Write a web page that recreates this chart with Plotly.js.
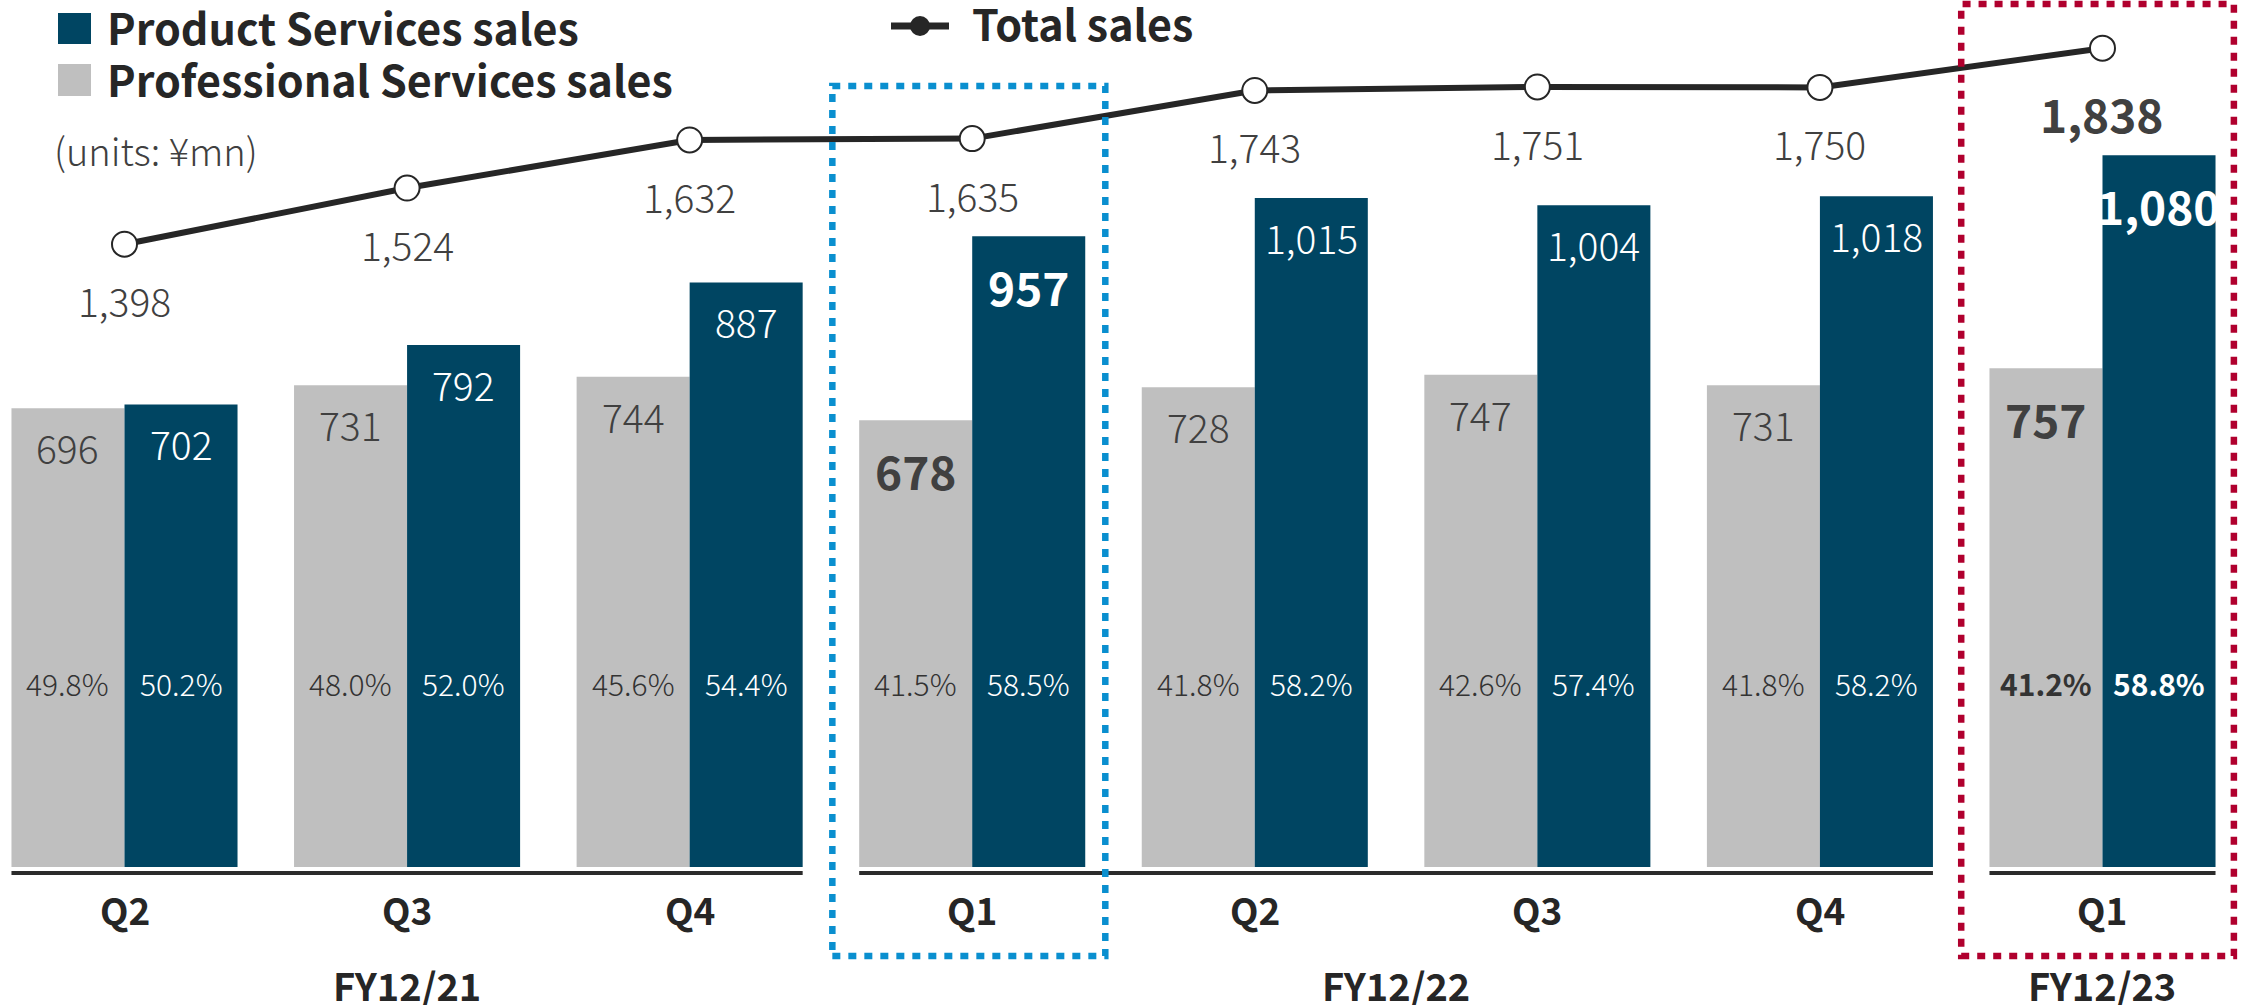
<!DOCTYPE html>
<html>
<head>
<meta charset="utf-8">
<script src="https://cdn.plot.ly/plotly-3.0.1.min.js"></script>
<style>
html,body{margin:0;padding:0;background:#fff;}
#chart{width:2242px;height:1007px;}
</style>
</head>
<body>
<div id="chart"></div>
<script>
// ---- data ----
const quarters = ['Q2','Q3','Q4','Q1','Q2','Q3','Q4','Q1'];
const fiscalYears = ['FY12/21','FY12/22','FY12/23'];
const fiscalYearSpan = [[0,2],[3,6],[7,7]];
const professional = [696,731,744,678,728,747,731,757];
const product = [702,792,887,957,1015,1004,1018,1080];
const total = [1398,1524,1632,1635,1743,1751,1750,1838];
const professionalPct = ['49.8%','48.0%','45.6%','41.5%','41.8%','42.6%','41.8%','41.2%'];
const productPct = ['50.2%','52.0%','54.4%','58.5%','58.2%','57.4%','58.2%','58.8%'];
const highlightBars = [3,7];     // bold bar values
const highlightAll = [7];        // bold totals & percentages

// ---- styling / layout ----
const W = 2242, H = 1007, PB = 867;
const FONT = 'Noto Sans CJK JP, Noto Sans, sans-serif';
const NAVY = '#004562', GRAY = '#bfbfbf', DARK = '#262626', TXT = '#404040';
const px = x => x / W;
const py = y => (PB - y) / PB;
const idx = quarters.map((_, i) => i);
const fmt = v => v.toLocaleString('en-US');

const traces = [
  {type:'bar', name:'Professional Services sales', x: idx, y: professional,
   marker:{color: GRAY}, hoverinfo:'skip', showlegend:false},
  {type:'bar', name:'Product Services sales', x: idx, y: product,
   marker:{color: NAVY}, hoverinfo:'skip', showlegend:false},
  {type:'scatter', mode:'lines+markers', name:'Total sales', x: idx, y: total, yaxis:'y2',
   line:{color: DARK, width: 6},
   marker:{size: 25, color:'#ffffff', line:{color: DARK, width: 2}},
   cliponaxis:false, hoverinfo:'skip', showlegend:false}
];

const ann = [];
const shapes = [];

idx.forEach(i => {
  const bb = highlightBars.includes(i);
  const ba = highlightAll.includes(i);
  // bar values
  ann.push({x: i - 0.2, y: professional[i], xref:'x', yref:'y', yshift: bb ? -50 : -39,
    text: fmt(professional[i]), showarrow:false, xanchor:'center', yanchor:'middle',
    font:{family: FONT, size: bb ? 46 : 39, color: TXT, weight: bb ? 700 : 300}});
  ann.push({x: i + 0.2, y: product[i], xref:'x', yref:'y', yshift: bb ? -50 : -39,
    text: fmt(product[i]), showarrow:false, xanchor:'center', yanchor:'middle',
    font:{family: FONT, size: bb ? 46 : 39, color: '#ffffff', weight: bb ? 700 : 300}});
  // totals
  ann.push({x: i, y: total[i], xref:'x', yref:'y2', yshift: ba ? -65 : -56,
    text: fmt(total[i]), showarrow:false, xanchor:'center', yanchor:'middle',
    font:{family: FONT, size: ba ? 46 : 39, color: TXT, weight: ba ? 700 : 300}});
  // percentages
  ann.push({x: i - 0.2, y: py(683), xref:'x', yref:'paper',
    text: professionalPct[i], showarrow:false, xanchor:'center', yanchor:'middle',
    font:{family: FONT, size: 30, color: '#333333', weight: ba ? 700 : 300}});
  ann.push({x: i + 0.2, y: py(683), xref:'x', yref:'paper',
    text: productPct[i], showarrow:false, xanchor:'center', yanchor:'middle',
    font:{family: FONT, size: 30, color: '#ffffff', weight: ba ? 700 : 300}});
  // quarter labels
  ann.push({x: i, y: py(909), xref:'x', yref:'paper', text: quarters[i], showarrow:false,
    xanchor:'center', yanchor:'middle', font:{family: FONT, size: 37, color: DARK, weight: 700}});
});

fiscalYears.forEach((fy, k) => {
  const [a, b] = fiscalYearSpan[k];
  ann.push({x: (a + b) / 2, y: py(984), xref:'x', yref:'paper', text: fy, showarrow:false,
    xanchor:'center', yanchor:'middle', height: 42, borderpad: 0,
    font:{family: FONT, size: 38, color: DARK, weight: 700}});
  // axis line segment under each fiscal year
  shapes.push({type:'line', xref:'x', yref:'paper', x0: a - 0.4, x1: b + 0.4, y0: py(873), y1: py(873),
    line:{color:'#2b2b2b', width: 4}});
});

// highlight boxes
shapes.push({type:'rect', xref:'x', yref:'paper', x0: 2.505, x1: 3.471, y0: py(956), y1: py(86),
  line:{color:'#0a8fcf', width: 6.5, dash:'8px,8px'}, fillcolor:'rgba(0,0,0,0)'});
shapes.push({type:'rect', xref:'x', yref:'paper', x0: 6.5, x1: 7.465, y0: py(956), y1: py(4),
  line:{color:'#b0002e', width: 6.5, dash:'8px,8px'}, fillcolor:'rgba(0,0,0,0)'});

// legend (drawn)
shapes.push({type:'rect', xref:'paper', yref:'paper', x0: px(58), x1: px(91), y0: py(44), y1: py(13),
  fillcolor: NAVY, line:{width:0}});
shapes.push({type:'rect', xref:'paper', yref:'paper', x0: px(58), x1: px(91), y0: py(96), y1: py(64),
  fillcolor: GRAY, line:{width:0}});
shapes.push({type:'line', xref:'paper', yref:'paper', x0: px(891), x1: px(949), y0: py(26), y1: py(26),
  line:{color: DARK, width: 7}});
shapes.push({type:'circle', xref:'paper', yref:'paper', x0: px(910), x1: px(930), y0: py(36), y1: py(16),
  fillcolor: DARK, line:{width:0}});
ann.push({x: px(106), y: py(26), xref:'paper', yref:'paper', text:'Product Services sales', showarrow:false,
  xanchor:'left', yanchor:'middle', height: 46, borderpad: 0,
  font:{family: FONT, size: 43, color: DARK, weight: 700}});
ann.push({x: px(106), y: py(78), xref:'paper', yref:'paper', text:'Professional Services sales', showarrow:false,
  xanchor:'left', yanchor:'middle', height: 46, borderpad: 0,
  font:{family: FONT, size: 43, color: DARK, weight: 700}});
ann.push({x: px(971), y: py(22), xref:'paper', yref:'paper', text:'Total sales', showarrow:false,
  xanchor:'left', yanchor:'middle', height: 46, borderpad: 0,
  font:{family: FONT, size: 43, color: DARK, weight: 700}});
ann.push({x: px(52), y: py(149), xref:'paper', yref:'paper', text:'(units: ¥mn)', showarrow:false,
  xanchor:'left', yanchor:'middle', font:{family: FONT, size: 38, color: TXT, weight: 300}});

const layout = {
  width: W, height: H,
  margin:{l:0, r:0, t:0, b: H - PB, pad:0},
  paper_bgcolor:'#ffffff', plot_bgcolor:'#ffffff',
  barmode:'group', bargap: 0.2, bargroupgap: 0,
  showlegend:false,
  xaxis:{range:[-0.4406, 7.4937], visible:false, fixedrange:true},
  yaxis:{range:[0, PB / 0.659], visible:false, fixedrange:true},
  yaxis2:{range:[0, PB / 0.4455], overlaying:'y', visible:false, fixedrange:true},
  annotations: ann,
  shapes: shapes
};

Plotly.newPlot('chart', traces, layout, {staticPlot:true, displayModeBar:false});
</script>
</body>
</html>
